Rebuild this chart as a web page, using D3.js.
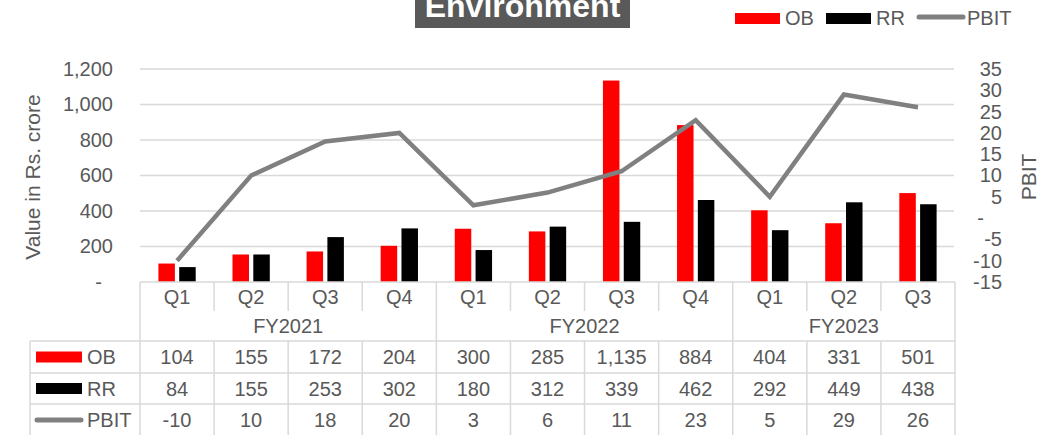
<!DOCTYPE html>
<html><head><meta charset="utf-8">
<script src="https://cdn.jsdelivr.net/npm/d3@7"></script>
<style>
html,body{margin:0;padding:0;background:#fff;}
svg{display:block;font-family:"Liberation Sans",Arial,sans-serif;}
</style></head>
<body>
<svg id="chart" width="1054" height="435"></svg>
<script>
const quarters = ["Q1","Q2","Q3","Q4","Q1","Q2","Q3","Q4","Q1","Q2","Q3"];
const years = ["FY2021","FY2022","FY2023"];
const yearCounts = [4,4,3];
const obValues = [104,155,172,204,300,285,1135,884,404,331,501];
const rrValues = [84,155,253,302,180,312,339,462,292,449,438];
const pbitValues = [-10,10,18,20,3,6,11,23,5,29,26];
const leftTicks = [0,200,400,600,800,1000,1200];
const rightTicks = [-15,-10,-5,0,5,10,15,20,25,30,35];
const seriesNames = ["OB","RR","PBIT"];
const colors = {OB:"#ff0000", RR:"#000000", PBIT:"#808080"};
const textColor = "#595959", gridColor = "#d9d9d9";

const fmt = d3.formatLocale({decimal:".", thousands:",", grouping:[3], currency:["",""], minus:"-"}).format(",");

const svg = d3.select("#chart");
const L = 140, R = 955, T = 69, B = 282;
const idx = quarters.map((q,i)=>i);
const x = d3.scaleBand().domain(idx).range([L,R]).paddingInner(0).paddingOuter(0);
const bw = x.bandwidth();
const xs = d3.scaleBand().domain(["OB","RR"]).range([18.4, 55.7]).paddingInner(0.207);
const yL = d3.scaleLinear().domain([0,1200]).range([B,T]);
const yR = d3.scaleLinear().domain([-15,35]).range([B,T]);

// gridlines
svg.append("g").selectAll("line").data(leftTicks.filter(d=>d>0)).join("line")
  .attr("x1",L).attr("x2",R-1).attr("y1",d=>yL(d)).attr("y2",d=>yL(d))
  .attr("stroke",gridColor).attr("stroke-width",1.5);

// left axis
const gL = svg.append("g").attr("transform",`translate(${L},0)`)
  .call(d3.axisLeft(yL).tickValues(leftTicks).tickSize(0).tickPadding(27)
    .tickFormat(d=> d===0 ? "-" : fmt(d)));
gL.select(".domain").remove();
gL.selectAll("text").attr("fill",textColor).attr("font-size",20).attr("font-family","Liberation Sans, Arial, sans-serif");
gL.selectAll(".tick").filter(d=>d===0).select("text").attr("dx",-11);

// right axis
const gR = svg.append("g").attr("transform",`translate(${R},0)`)
  .call(d3.axisRight(yR).tickValues(rightTicks).tickSize(0)
    .tickFormat(d=> d===0 ? "-" : fmt(d)));
gR.select(".domain").remove();
gR.selectAll("text").attr("fill",textColor).attr("font-size",20).attr("font-family","Liberation Sans, Arial, sans-serif")
  .attr("text-anchor","end").attr("x",47);
gR.selectAll(".tick").filter(d=>d===0).select("text").attr("x",29);

// axis titles
svg.append("text").attr("transform","translate(40,177) rotate(-90)").attr("text-anchor","middle")
  .attr("fill",textColor).attr("font-size",21).text("Value in Rs. crore");
svg.append("text").attr("transform","translate(1036,177) rotate(-90)").attr("text-anchor","middle")
  .attr("fill",textColor).attr("font-size",21).text("PBIT");

// bars
const barData = [];
idx.forEach(i=>{ barData.push({i, s:"OB", v:obValues[i]}); barData.push({i, s:"RR", v:rrValues[i]}); });
svg.append("g").selectAll("rect").data(barData).join("rect")
  .attr("x",d=>x(d.i)+xs(d.s)).attr("width",xs.bandwidth())
  .attr("y",d=>yL(d.v)).attr("height",d=>B-yL(d.v))
  .attr("fill",d=>colors[d.s]);

// line
const line = d3.line().x(i=>x(i)+bw/2).y(i=>yR(pbitValues[i]));
svg.append("path").datum(idx).attr("d",line).attr("fill","none")
  .attr("stroke",colors.PBIT).attr("stroke-width",4.5).attr("stroke-linejoin","miter");

// title
const tg = svg.append("g");
tg.append("rect").attr("x",415).attr("y",-10).attr("width",215).attr("height",38).attr("fill","#595959");
tg.append("text").attr("x",522.5).attr("y",17).attr("text-anchor","middle").attr("fill","#fff")
  .attr("font-weight","bold").attr("font-size",32).text("Environment");

// legend
const lg = svg.append("g");
const legendItems = [{s:"OB",x:735},{s:"RR",x:826},{s:"PBIT",x:917}];
legendItems.forEach(it=>{
  if(it.s==="PBIT"){
    lg.append("line").attr("x1",it.x+2).attr("x2",it.x+46).attr("y1",17).attr("y2",17)
      .attr("stroke",colors.PBIT).attr("stroke-width",5).attr("stroke-linecap","round");
  } else {
    lg.append("rect").attr("x",it.x).attr("y",13).attr("width",45).attr("height",11).attr("fill",colors[it.s]);
  }
  lg.append("text").attr("x",it.x+50).attr("y",25).attr("fill",textColor).attr("font-size",20).text(it.s);
});

// table
const tb = svg.append("g");
const rowY = [282,311,341,373,404,436];
const TL = 30;
function hline(x1,x2,y){ tb.append("line").attr("x1",x1).attr("x2",x2).attr("y1",y).attr("y2",y).attr("stroke",gridColor).attr("stroke-width",1.5); }
function vline(xx,y1,y2){ tb.append("line").attr("x1",xx).attr("x2",xx).attr("y1",y1).attr("y2",y2).attr("stroke",gridColor).attr("stroke-width",1.5); }
hline(L,R,rowY[0]);
hline(TL,R,rowY[2]); hline(TL,R,rowY[3]); hline(TL,R,rowY[4]); hline(TL,R,rowY[5]);
let cum = 0;
const groupStarts = [];
yearCounts.forEach(c=>{ groupStarts.push(cum); cum += c; });
idx.forEach(i=>{
  const xx = x(i);
  const isGroup = groupStarts.includes(i);
  if(isGroup) vline(xx,rowY[0],rowY[5]);
  else { vline(xx,rowY[0],rowY[1]); vline(xx,rowY[2],rowY[5]); }
});
vline(R,rowY[0],rowY[5]);
vline(TL,rowY[2],rowY[5]);

// quarter labels
tb.selectAll("text.q").data(idx).join("text").attr("class","q")
  .attr("x",i=>x(i)+bw/2).attr("y",(rowY[0]+rowY[1])/2+7).attr("text-anchor","middle")
  .attr("fill",textColor).attr("font-size",20).text(i=>quarters[i]);
// year labels
years.forEach((yname,k)=>{
  const s = groupStarts[k], e = s + yearCounts[k] - 1;
  const cx = (x(s) + x(e) + bw)/2;
  tb.append("text").attr("x",cx).attr("y",(rowY[1]+rowY[2])/2+7).attr("text-anchor","middle")
    .attr("fill",textColor).attr("font-size",20).text(yname);
});
// data rows
const rows = [obValues, rrValues, pbitValues];
rows.forEach((vals,r)=>{
  const cy = (rowY[2+r]+rowY[3+r])/2;
  tb.selectAll(null).data(idx).join("text")
    .attr("x",i=>x(i)+bw/2).attr("y",cy+7).attr("text-anchor","middle")
    .attr("fill",textColor).attr("font-size",20).text(i=>fmt(vals[i]));
  const s = seriesNames[r];
  if(s==="PBIT"){
    tb.append("line").attr("x1",37).attr("x2",81).attr("y1",cy).attr("y2",cy)
      .attr("stroke",colors.PBIT).attr("stroke-width",5).attr("stroke-linecap","round");
  } else {
    tb.append("rect").attr("x",36).attr("y",cy-5.5).attr("width",46).attr("height",11).attr("fill",colors[s]);
  }
  tb.append("text").attr("x",87).attr("y",cy+7).attr("fill",textColor).attr("font-size",20).text(s);
});
</script>
</body></html>
